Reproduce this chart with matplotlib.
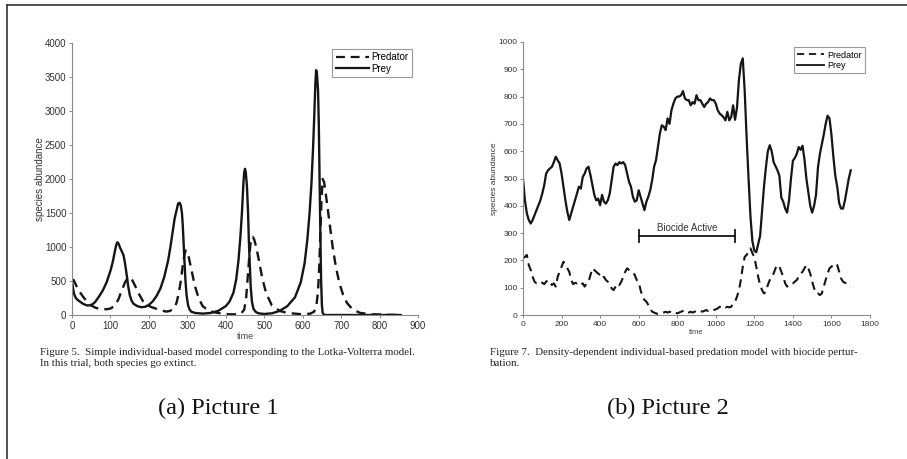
"""Two predator-prey panels side by side, with captions (recreated)."""

import matplotlib
matplotlib.use("Agg")
import matplotlib.pyplot as plt
from matplotlib.lines import Line2D

# ── Data: Picture 1 (Lotka-Volterra individual-based model) ───────────────────
t_prey1 = [0, 3, 6, 10, 15, 20, 30, 40, 50, 60, 70, 80, 90, 100, 106, 112, 115,
           118, 121, 125, 130, 134, 137, 140, 143, 146, 150, 155, 160, 170, 180,
           190, 200, 210, 220, 230, 240, 250, 256, 262, 267, 272, 276, 280, 283,
           286, 288, 290, 292, 295, 298, 302, 306, 310, 320, 340, 360, 380, 400,
           410, 420, 427, 433, 438, 442, 446, 448, 450, 452, 455, 458, 460, 462,
           465, 468, 472, 478, 485, 500, 520, 540, 560, 580, 595, 605, 612, 618,
           623, 627, 630, 633, 635, 637, 640, 642, 644, 646, 648, 650, 652, 656,
           700, 750, 800, 855]
prey1 = [500, 380, 300, 250, 220, 200, 160, 140, 145, 190, 270, 360, 480, 650,
         780, 950, 1030, 1070, 1050, 990, 930, 880, 790, 680, 560, 430, 300, 210,
         165, 130, 115, 120, 150, 200, 280, 390, 560, 800, 1000, 1230, 1420,
         1540, 1640, 1650, 1610, 1500, 1330, 1100, 850, 520, 290, 140, 80, 50,
         30, 20, 30, 60, 130, 200, 330, 520, 800, 1150, 1500, 1950, 2100, 2150,
         2100, 1900, 1500, 1100, 800, 400, 200, 90, 45, 25, 15, 25, 60, 130, 260,
         480, 760, 1100, 1500, 1950, 2450, 2900, 3400, 3600, 3560, 3300, 2800,
         2000, 1200, 500, 150, 30, 0, 0, 0, 0, 0]

t_pred1 = [0, 4, 8, 12, 20, 30, 40, 50, 60, 70, 80, 90, 100, 110, 120, 130, 138,
           144, 148, 152, 157, 165, 175, 185, 195, 205, 215, 230, 245, 255, 265,
           272, 278, 283, 287, 290, 293, 296, 299, 303, 310, 320, 330, 340, 355,
           370, 390, 410, 430, 440, 448, 453, 457, 461, 464, 467, 470, 474, 480,
           487, 495, 505, 520, 540, 560, 580, 600, 620, 630, 636, 640, 643, 646,
           649, 652, 656, 662, 670, 678, 686, 695, 705, 715, 730, 750, 780, 810,
           855]
pred1 = [520, 515, 470, 420, 340, 260, 190, 140, 110, 90, 85, 85, 95, 130, 220,
         370, 480, 535, 550, 540, 510, 420, 300, 200, 150, 120, 100, 70, 50, 60,
         100, 180, 330, 500, 680, 800, 900, 950, 930, 870, 680, 420, 240, 130,
         65, 40, 20, 10, 10, 20, 80, 250, 550, 850, 1030, 1140, 1150, 1110, 980,
         780, 540, 320, 140, 60, 30, 20, 10, 20, 50, 150, 350, 700, 1200, 1700,
         2000, 1950, 1700, 1350, 1000, 720, 480, 300, 180, 80, 30, 10, 5, 0]

# ── Data: Picture 2 (density-dependent model, biocide perturbation) ───────────
t2 = list(range(0, 1710, 10))
prey2 = [500, 420, 372, 348, 335, 348, 366, 384, 402, 420, 445, 475, 518, 530,
         537, 543, 560, 580, 567, 555, 518, 470, 420, 378, 348, 372, 396, 420,
         445, 470, 463, 506, 518, 537, 543, 512, 475, 440, 420, 426, 402, 440,
         415, 408, 420, 445, 494, 543, 555, 549, 560, 555, 560, 549, 518, 488,
         470, 433, 415, 420, 457, 433, 408, 384, 415, 433, 457, 494, 543, 567,
         616, 665, 695, 690, 677, 720, 700, 750, 774, 793, 800, 800, 805, 820,
         793, 787, 787, 768, 780, 774, 805, 787, 787, 774, 762, 774, 780, 793,
         787, 787, 774, 750, 738, 732, 725, 713, 744, 713, 725, 768, 715, 760,
         860, 920, 940, 820, 650, 500, 360, 270, 235, 230, 260, 290, 380, 470,
         540, 600, 622, 600, 560, 545, 530, 510, 430, 415, 390, 375, 420, 500,
         565, 575, 590, 615, 605, 620, 570, 500, 450, 400, 375, 400, 440, 540,
         590, 625, 660, 700, 730, 720, 660, 580, 510, 470, 410, 390, 390, 420,
         460, 500, 530]
pred2 = [207, 213, 220, 183, 165, 140, 122, 116, 116, 122, 118, 113, 122, 128,
         118, 110, 116, 104, 140, 158, 177, 195, 183, 171, 158, 128, 113, 118,
         116, 118, 110, 116, 104, 116, 122, 146, 171, 165, 158, 152, 146, 134,
         140, 128, 122, 110, 98, 91, 104, 116, 110, 122, 140, 158, 171, 165, 158,
         155, 146, 128, 122, 91, 67, 55, 49, 37, 24, 12, 9, 6, 4, 4, 6, 9, 12, 9,
         12, 9, 6, 9, 6, 9, 12, 15, 18, 12, 9, 12, 9, 12, 15, 12, 15, 12, 15, 18,
         15, 18, 15, 18, 21, 24, 30, 28, 33, 28, 30, 28, 30, 43, 49, 67, 91, 128,
         177, 213, 220, 232, 244, 226, 213, 177, 140, 110, 91, 79, 85, 110, 128,
         140, 152, 171, 183, 177, 158, 140, 116, 104, 110, 116, 116, 122, 128,
         140, 152, 158, 171, 183, 171, 152, 122, 98, 79, 79, 73, 79, 104, 128,
         152, 171, 177, 183, 189, 183, 158, 134, 122, 118, 116, 110, 104]

biocide_span = [600, 1100]
biocide_level = 290

# ── Style ─────────────────────────────────────────────────────────────────────
INK = "#151515"
AXC = "#8a8a8a"
SANS = "Liberation Sans"
SERIF = "Liberation Serif"
DASH = (0, (4.0, 2.6))


def style_axes(ax, fs):
    for side in ("top", "right"):
        ax.spines[side].set_visible(False)
    for side in ("left", "bottom"):
        ax.spines[side].set_color(AXC)
        ax.spines[side].set_linewidth(0.8)
    ax.tick_params(direction="out", length=2.5, width=0.7, color=AXC,
                   labelsize=fs, labelcolor="#333333", pad=1.5)
    for lab in ax.get_xticklabels() + ax.get_yticklabels():
        lab.set_family(SANS)


def legend(ax, fs, hl, lw):
    handles = [Line2D([], [], color=INK, lw=lw, ls=DASH),
               Line2D([], [], color=INK, lw=lw)]
    leg = ax.legend(handles, ["Predator", "Prey"], loc="upper right",
                    fancybox=False, edgecolor="#999999", framealpha=1,
                    prop={"family": SANS, "size": fs}, handlelength=hl,
                    handletextpad=0.3, borderpad=0.35, labelspacing=0.15,
                    borderaxespad=0.6)
    leg.get_frame().set_linewidth(0.8)


fig = plt.figure(figsize=(9.07, 4.59), dpi=100)

# panel (a)
ax1 = fig.add_axes([72 / 907, 144 / 459, 346 / 907, 272 / 459])
ax1.plot(t_pred1, pred1, color=INK, lw=1.7, ls=DASH)
ax1.plot(t_prey1, prey1, color=INK, lw=1.7)
ax1.set_xlim(0, 900)
ax1.set_ylim(0, 4000)
ax1.set_xticks(range(0, 901, 100))
ax1.set_yticks(range(0, 4001, 500))
style_axes(ax1, 7)
ax1.set_xlabel("time", family=SANS, fontsize=6.5, color="#444444", labelpad=1)
ax1.set_ylabel("species abundance", family=SANS, fontsize=7, color="#333333",
               labelpad=0)
legend(ax1, 7, 3.4, 1.6)

# panel (b)
ax2 = fig.add_axes([523 / 907, 144 / 459, 347 / 907, 273 / 459])
ax2.plot(t2, pred2, color=INK, lw=1.5, ls=DASH)
ax2.plot(t2, prey2, color=INK, lw=1.6)
ax2.set_xlim(0, 1800)
ax2.set_ylim(0, 1000)
ax2.set_xticks(range(0, 1801, 200))
ax2.set_yticks(range(0, 1001, 100))
style_axes(ax2, 6)
ax2.set_xlabel("time", family=SANS, fontsize=5.5, color="#444444", labelpad=1)
ax2.set_ylabel("species abundance", family=SANS, fontsize=6, color="#333333",
               labelpad=0)
legend(ax2, 6.5, 3.0, 1.3)

# biocide bar with end caps
ax2.plot(biocide_span, [biocide_level] * 2, color=INK, lw=1.3)
for x in biocide_span:
    ax2.plot([x, x], [biocide_level - 22, biocide_level + 22], color=INK, lw=1.3)
ax2.text(sum(biocide_span) / 2, biocide_level + 12, "Biocide Active",
         ha="center", va="bottom", family=SANS, fontsize=7, color="#333333")

# captions
fig.text(40 / 907, 1 - 348 / 459,
         "Figure 5.  Simple individual-based model corresponding to the Lotka-Volterra model.\n"
         "In this trial, both species go extinct.",
         family=SERIF, fontsize=7.8, va="top", ha="left", linespacing=1.35,
         color="#222222")
fig.text(490 / 907, 1 - 348 / 459,
         "Figure 7.  Density-dependent individual-based predation model with biocide pertur-\n"
         "bation.",
         family=SERIF, fontsize=7.8, va="top", ha="left", linespacing=1.35,
         color="#222222")
fig.text(218 / 907, 1 - 408 / 459, "(a) Picture 1", family=SERIF, fontsize=17.5,
         ha="center", va="center", color="#111111")
fig.text(668 / 907, 1 - 408 / 459, "(b) Picture 2", family=SERIF, fontsize=17.5,
         ha="center", va="center", color="#111111")

# frame lines (top and left edges of the clipped box)
fig.add_artist(Line2D([7 / 907, 1], [1 - 5 / 459] * 2, color="#333333", lw=1.2))
fig.add_artist(Line2D([7 / 907] * 2, [0, 1 - 5 / 459], color="#333333", lw=1.2))

fig.savefig("out.png", dpi=100)
